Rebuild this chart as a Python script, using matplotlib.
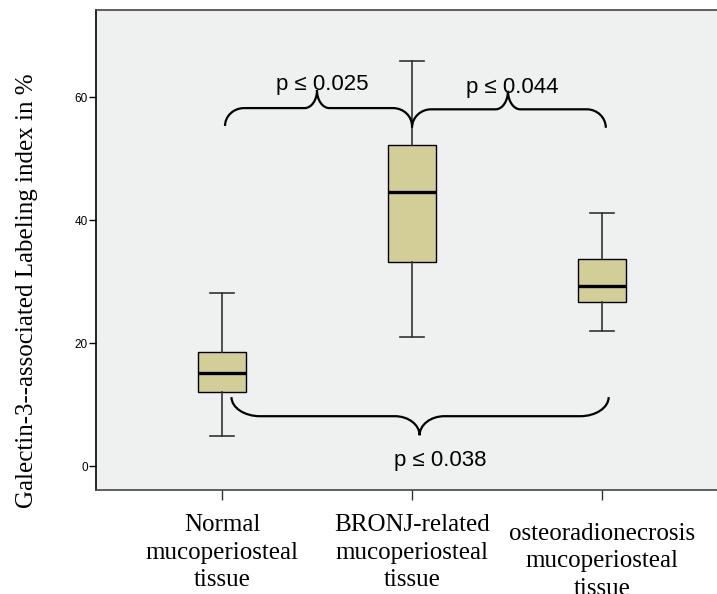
import numpy as np
import matplotlib
matplotlib.use("Agg")
import matplotlib.pyplot as plt
from matplotlib.path import Path
from matplotlib.patches import PathPatch

# group labels and box statistics
groups = ["Normal\nmucoperiosteal\ntissue",
          "BRONJ-related\nmucoperiosteal\ntissue",
          "osteoradionecrosis\nmucoperiosteal\ntissue"]
q1 = [12.0, 33.2, 26.6]
median = [15.2, 44.6, 29.2]
q3 = [18.6, 52.2, 33.6]
whislo = [4.8, 21.0, 22.0]
whishi = [28.2, 65.9, 41.1]

# pairwise comparisons (1-based group index) and p labels
pairs = [(1, 2), (2, 3), (1, 3)]
p_labels = ["p \u2264 0.025", "p \u2264 0.044", "p \u2264 0.038"]

SANS = "Liberation Sans"
SERIF = "Liberation Serif"


def brace(ax, x0, x1, y_tip, y_mid, y_cusp, xm, r_end, r_cusp, lw=1.6):
    # curly brace drawn with cubic beziers in data coords
    k = 0.55
    dy1 = y_mid - y_tip
    dy2 = y_cusp - y_mid
    verts = [(x0, y_tip),
             (x0, y_tip + k * dy1), (x0 + r_end * (1 - k), y_mid), (x0 + r_end, y_mid),
             (xm - r_cusp, y_mid),
             (xm - r_cusp * (1 - k), y_mid), (xm, y_cusp - k * dy2), (xm, y_cusp),
             (xm, y_cusp - k * dy2), (xm + r_cusp * (1 - k), y_mid), (xm + r_cusp, y_mid),
             (x1 - r_end, y_mid),
             (x1 - r_end * (1 - k), y_mid), (x1, y_tip + k * dy1), (x1, y_tip)]
    codes = [Path.MOVETO,
             Path.CURVE4, Path.CURVE4, Path.CURVE4,
             Path.LINETO,
             Path.CURVE4, Path.CURVE4, Path.CURVE4,
             Path.CURVE4, Path.CURVE4, Path.CURVE4,
             Path.LINETO,
             Path.CURVE4, Path.CURVE4, Path.CURVE4]
    ax.add_patch(PathPatch(Path(verts, codes), fill=False, lw=lw,
                           edgecolor="black", capstyle="butt", zorder=5))


fig = plt.figure(figsize=(7.17, 5.94), dpi=100)
ax = fig.add_axes([96 / 717, 104 / 594, 632 / 717, 480 / 594])
ax.set_facecolor("#eff0f0")

stats = []
for i in range(len(groups)):
    stats.append(dict(med=median[i], q1=q1[i], q3=q3[i],
                      whislo=whislo[i], whishi=whishi[i], fliers=[]))

ax.bxp(stats, positions=[1, 2, 3], widths=0.25, patch_artist=True,
       showfliers=False,
       boxprops=dict(facecolor="#d3ce98", edgecolor="black", linewidth=1.0),
       medianprops=dict(color="black", linewidth=2.4),
       whiskerprops=dict(color="#333333", linewidth=1.2),
       capprops=dict(color="#333333", linewidth=1.2),
       capwidths=0.125)

ax.set_xlim(0.337, 3.663)
ax.set_ylim(-3.9, 74.15)
ax.set_yticks([0, 20, 40, 60])
ax.set_yticklabels(["0", "20", "40", "60"], fontsize=8.5, family=SANS)
ax.tick_params(axis="y", length=5, width=1.0, pad=1, color="black")
ax.set_xticks([1, 2, 3])
ax.set_xticklabels(groups, fontsize=18, family=SERIF, linespacing=1.32)
ax.tick_params(axis="x", length=7, width=1.0, pad=10.5, color="#333333")
# third label sits a bit lower in the original
ax.xaxis.get_major_ticks()[2].set_pad(16.7)

for side in ["top", "bottom", "right"]:
    ax.spines[side].set_color("#444444")
ax.spines["left"].set_color("black")
for sp in ax.spines.values():
    sp.set_linewidth(1.2)

# comparison braces
brace(ax, 1.016, 2.0, 55.3, 58.2, 61.1, 1.5, 0.1, 0.065)
brace(ax, 2.0, 3.02, 55.0, 58.0, 61.0, 2.505, 0.1, 0.065)
brace(ax, 1.05, 3.035, 11.2, 8.1, 5.0, 2.04, 0.15, 0.13)

ax.text(1.526, 61.1, p_labels[0], ha="center", va="baseline",
        fontsize=16, family=SANS, zorder=6)
ax.text(2.53, 60.6, p_labels[1], ha="center", va="baseline",
        fontsize=16, family=SANS, zorder=6)
ax.text(2.147, 0.0, p_labels[2], ha="center", va="baseline",
        fontsize=16, family=SANS, zorder=6)

fig.text(27 / 717, 1 - 291 / 594, "Galectin-3--associated Labeling index in %",
         rotation=90, ha="center", va="center", fontsize=18, family=SERIF)

fig.savefig("out.png", dpi=100)
